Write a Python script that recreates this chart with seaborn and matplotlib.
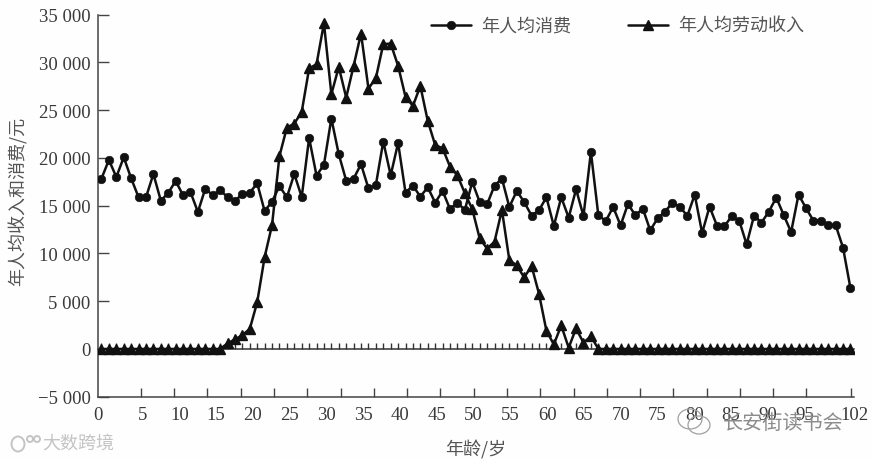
import numpy as np
import pandas as pd
import matplotlib
matplotlib.use("Agg")
import matplotlib.pyplot as plt
from matplotlib.patches import Ellipse
from matplotlib.transforms import IdentityTransform
import seaborn as sns

ages = list(range(102))
consumption = [17840, 19790, 18000, 20070, 17870, 15880, 15880, 18320, 15530, 16330,
               17590, 16090, 16430, 14340, 16790, 16090, 16610, 15910, 15530, 16190,
               16370, 17340, 14440, 15430, 17060, 15880, 18320, 15910, 22090, 18150,
               19300, 24130, 20380, 17630, 17840, 19340, 16820, 17170, 21720, 18180,
               21570, 16370, 17100, 15950, 16930, 15320, 16540, 14650, 15320, 14550,
               17480, 15390, 15140, 17100, 17840, 14860, 16540, 15390, 13960, 14520,
               15880, 12870, 15880, 13750, 16720, 13920, 20630, 14020, 13390, 14860,
               12940, 15180, 13990, 14690, 12420, 13680, 14380, 15320, 14900, 13920,
               16160, 12140, 14900, 12910, 12840, 13920, 13440, 10950, 13960, 13230,
               14380, 15850, 14020, 12240, 16160, 14760, 13440, 13440, 12970, 12970,
               10610, 6370]
labor_income = [0] * 17 + [580, 1000, 1450, 2100, 4900, 9620, 12970, 20200, 23180, 23600,
                           24820, 29370, 29820, 34110, 26670, 29530, 26320, 29640, 33030,
                           27270, 28350, 31910, 31980, 29640, 26390, 25450, 27540, 23870,
                           21360, 21010, 19090, 18180, 16300, 14650, 11580, 10500, 11230,
                           14550, 9310, 8750, 7490, 8680, 5780, 1910, 470, 2460, 130,
                           2150, 650, 1340] + [0] * 35
y_ticks = [-5000, 0, 5000, 10000, 15000, 20000, 25000, 30000, 35000]
y_labels = ["\u22125 000", "0", "5 000", "10 000", "15 000", "20 000", "25 000", "30 000", "35 000"]
x_labels = ["0", "5", "10", "15", "20", "25", "30", "35", "40", "45", "50", "55", "60",
            "65", "70", "75", "80", "85", "90", "95", "102"]
series_names = ["年人均消费", "年人均劳动收入"]
y_title = "年人均收入和消费/元"
x_title = "年龄/岁"
watermarks = ["长安街读书会", "大数跨境"]

sns.set_theme(style="ticks")
plt.rcParams["font.family"] = ["Liberation Serif", "Noto Sans CJK SC", "DejaVu Sans"]
plt.rcParams["axes.unicode_minus"] = False

TXT = "#3a3a3a"
CJK = ["Noto Sans CJK SC", "DejaVu Sans"]

fig = plt.figure(figsize=(8.73, 4.6), dpi=100, facecolor="#fefefe")
ax = fig.add_axes([97.5 / 873, (460 - 397.7) / 460, 756.5 / 873, 382 / 460], facecolor="#fefefe")

sns.lineplot(x=ages, y=consumption, ax=ax, color="#111111", linewidth=1.8, marker="o",
             markersize=6.2, markeredgecolor="#111111", markeredgewidth=0.4,
             label=series_names[0], zorder=3, errorbar=None)
sns.lineplot(x=ages, y=labor_income, ax=ax, color="#111111", linewidth=1.8, marker="^",
             markersize=7.2, markeredgecolor="#111111", markeredgewidth=1.0,
             label=series_names[1], zorder=4, errorbar=None)

ax.set_xlim(-0.538, 101.08)
ax.set_ylim(-5000, 35000)
sns.despine(ax=ax)
for s in ("left", "bottom"):
    ax.spines[s].set_color("#444444")
    ax.spines[s].set_linewidth(1.1)

ax.set_yticks(y_ticks, y_labels, fontsize=13.5, color=TXT)
ax.tick_params(axis="y", direction="in", length=8, width=1, color="#444444", pad=5)

# printed tick marks and printed labels do not coincide on the source chart
ax.set_xticks(list(5.31 + 4.488 * np.arange(21)) + [101.08], [""] * 22)
ax.tick_params(axis="x", which="major", direction="in", length=6.5, width=1, color="#444444")
label_pos = [-0.538] + list(5.54 + 4.96 * np.arange(19)) + [101.48]
ax.set_xticks(label_pos, x_labels, minor=True, fontsize=13.5, color=TXT)
ax.tick_params(axis="x", which="minor", length=0, pad=7)

zero_axis = ax.secondary_xaxis(0.125)
zero_axis.set_xticks(ages, [""] * len(ages))
zero_axis.tick_params(axis="x", direction="in", length=4.5, width=1.0, color="#333333")
zero_axis.spines["bottom"].set_color("#333333")
zero_axis.spines["bottom"].set_linewidth(1.1)

fig.text(18 / 873, 1 - 201 / 460, y_title, rotation=90, ha="center", va="center",
         fontsize=13, color="#555555", family=CJK)
fig.text(476 / 873, 1 - 450 / 460, x_title, ha="center", va="center",
         fontsize=13, color="#555555", family=CJK)

leg = ax.legend(ncol=2, frameon=False, loc="upper left",
                bbox_to_anchor=(431 / 873, 1 - 18 / 460), bbox_transform=fig.transFigure,
                handlelength=2.2, handletextpad=0.55, columnspacing=3.2,
                prop={"family": CJK, "size": 13}, borderpad=0, borderaxespad=0)
for t in leg.get_texts():
    t.set_color("#555555")

# watermark glyphs
px = IdentityTransform()
for (cx, cy, w, h) in [(690, 420, 24, 20), (699, 426, 22, 18)]:
    fig.add_artist(Ellipse((cx, 460 - cy), w, h, transform=px, fill=False,
                           edgecolor="#a0a0a0", linewidth=0.9, zorder=10))
for (cx, cy, w, h) in [(18, 445, 13, 15), (30, 440, 6, 6), (37, 440, 6, 6)]:
    fig.add_artist(Ellipse((cx, 460 - cy), w, h, transform=px, fill=False,
                           edgecolor="#c4c4c4", linewidth=1.4, zorder=10))

fig.text(783 / 873, 1 - 423 / 460, watermarks[0], ha="center", va="center",
         fontsize=14.5, color="#8c8c8c", family=CJK, zorder=10)
fig.text(78 / 873, 1 - 444 / 460, watermarks[1], ha="center", va="center",
         fontsize=13, color="#c4c4c4", family=CJK, zorder=10)

fig.savefig("out.png", dpi=100, facecolor=fig.get_facecolor())
